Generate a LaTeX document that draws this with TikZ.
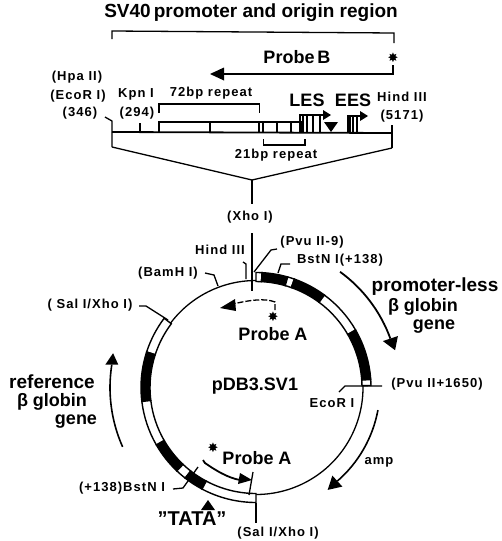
\documentclass[tikz,border=0pt]{standalone}
\usepackage{fontspec}
\setmainfont{Liberation Sans}
\newfontfamily\starfont{DejaVu Sans}
\newfontfamily\labfont[LetterSpace=8]{Liberation Sans Bold}
\usetikzlibrary{calc}
\tikzset{
 lab/.style={inner sep=0pt,font=\fontsize{13}{14}\labfont},
 big/.style={inner sep=0pt,font=\fontsize{19}{21}\selectfont\bfseries},
 mid/.style={inner sep=0pt,font=\fontsize{18}{21}\selectfont\bfseries},
 wide/.style={inner sep=0pt,font=\fontsize{19}{21}\selectfont\bfseries},
 thinl/.style={line width=1.3pt},
 med/.style={line width=1.8pt},
 starn/.style={inner sep=0pt,font=\fontsize{13}{13}\selectfont\starfont},
}
\newcommand{\band}[3]{\filldraw[fill=#3,draw=black,line width=1.4pt] (#1:115) arc[start angle=#1,end angle=#2,radius=115] -- (#2:106) arc[start angle=#2,end angle=#1,radius=106] -- cycle;}
\begin{document}
\begin{tikzpicture}[x=1pt,y=-1pt,line cap=butt]
\useasboundingbox[fill=white] (0,0) rectangle (501,541);
% top texts
\node[big] (title) at (251,13) {SV40\,promoter and origin region};
\node[mid] (pb) at (297,57) {Probe\,B};
\node[starn] (sb) at (393,58) {✸};
\node[lab] (hpa) at (77,77) {(Hpa II)};
\node[lab] (eco) at (78,96) {(EcoR I)};
\node[lab] (n346) at (80,113) {(346)};
\node[lab] (kpn) at (136,94) {Kpn I};
\node[lab] (n294) at (137,113) {(294)};
\node[lab] (r72) at (211,93) {72bp repeat};
\node[mid] (les) at (307,100) {LES};
\node[mid] (ees) at (353,100) {EES};
\node[lab] (hind) at (402,97) {Hind III};
\node[lab] (n5171) at (402,116) {(5171)};
\node[lab] (r21) at (276,155) {21bp repeat};
% bracket
\draw[thinl] (112,39) -- (112,31) -- (394,33) -- (394,43);
\coordinate (pbs) at (393,65);
\coordinate (pbc) at (393,74);
\coordinate (pbt) at (210,74);
\draw[med] (pbs) -- (pbc) -- (224,74);
\fill (pbt) -- (224,67.5) -- (224,80.5) -- cycle;
% map
\coordinate (ml) at (112,132);
\coordinate (mr) at (392,133);
\draw[med] (ml) -- (mr);
\draw[thinl] (105,117) -- (112,121) -- (112,147) coordinate (zl);
\draw[thinl] (392,125) -- (392,148) coordinate (zr);
\coordinate (apex) at (252,180);
\draw[thinl] (zl) -- (apex) -- (zr);
\node[lab] (xho) at (250,217) {(Xho I)};
\draw[thinl] (apex) -- (252,204);
\draw[thinl] (140,123) -- (140,132);
% repeat boxes
\draw[thinl] (159,132) |- (302,122);
\foreach \x in {210,259,263,277,291,302}{\draw[thinl] (\x,122) -- (\x,132);}
\draw[thinl] (159,113) -- (159,104) -- (259.5,104) -- (259.5,113);
\draw[thinl] (263.5,139) -- (263.5,145) -- (305,145) -- (305,139);
% LES
\draw[thinl] (300,132) -- (300,115) -- (325,115);
\fill (331,115) -- (323,110) -- (323,120) -- cycle;
\foreach \x in {303,307,313,320}{\draw[thinl] (\x,115) -- (\x,132);}
\fill (324,122) -- (338,122) -- (331,132) -- cycle;
% EES
\fill (347,116) rectangle (350.5,133);
\draw[thinl] (353,116) -- (353,132);
\fill (355.5,116) rectangle (358,133);
\draw[thinl] (347,116) -- (362,116);
\fill (368,116) -- (360,111) -- (360,121) -- cycle;
% circle
\begin{scope}[shift={(256,387.5)},y=1pt]
\draw[thinl] (1:107) arc[start angle=1,end angle=-90,radius=107];
\draw[thinl] (143:107) arc[start angle=143,end angle=90,radius=107];
\band{90}{87}{white}
\band{87}{74}{black}
\band{74}{70.5}{white}
\band{70.5}{53.5}{black}
\band{53.5}{30}{white}
\band{30}{4}{black}
\band{4}{1}{white}
\band{143}{162}{white}
\band{162}{187}{black}
\band{187}{210}{white}
\band{210}{226.5}{black}
\band{226.5}{232}{white}
\band{232}{242}{black}
\band{242}{270}{white}
% outer arrows
\draw[line width=1.8pt] (54:143) arc[start angle=54,end angle=20,radius=143];
\fill (15:144) -- ($(20:143)+(-7.5,-2.5)$) -- ($(20:143)+(7.5,2.5)$) -- cycle;
\draw[line width=1.6pt] (204:146) arc[start angle=204,end angle=171,radius=146];
\fill (166.5:147) -- ($(171:146)+(-6.5,0)$) -- ($(171:146)+(6.5,0)$) -- cycle;
\draw[line width=1.6pt] (-10.5:124) arc[start angle=-10.5,end angle=-49,radius=124];
\fill (-55:125) -- ($(-49:124)+(-5,5.5)$) -- ($(-49:124)+(5,-5.5)$) -- cycle;
\end{scope}
% vertical top
\draw[thinl] (252,233) -- (252,291);
\node[lab] (hind2) at (220,250) {Hind III};
\draw[thinl] (243,262) -- (246,264) -- (246,279);
\node[lab] (bam) at (168,273) {(BamH I)};
\draw[thinl] (205,273) -- (214,275) -- (218,286);
\node[lab] (sal1) at (90,305) {( Sal I/Xho I)};
\draw[thinl] (139,306) -- (146,306) -- (168,320);
\node[lab] (pvu9) at (312,242) {(Pvu II-9)};
\draw[thinl] (277,249) -- (271,250) -- (254,272);
\node[lab] (bst1) at (340,260) {BstN I(+138)};
\draw[thinl] (290,264) -- (281,264) -- (278,273);
\node[wide] (pl1) at (435,287) {promoter-less};
\node[mid] (pl2) at (423,307) {β globin};
\node[mid] (pl3) at (434,327) {gene};
\node[lab] (pvu16) at (437,384) {(Pvu II+1650)};
\draw[thinl] (382,386) -- (345,386) -- (339,392);
\node[lab] (eco2) at (332,403) {EcoR I};
\node[lab] (amp) at (379,462) {amp};
\node[mid] (plas) at (255,386) {pDB3.SV1};
\node[wide] (ref1) at (52,382) {reference};
\node[mid] (ref2) at (52,402) {β globin};
\node[mid] (ref3) at (76,422) {gene};
% probe A top
\node[mid] (pa1) at (273,334) {Probe A};
\node[starn] (s1) at (273,317) {✸};
\draw[thinl,dash pattern=on 6pt off 2pt] (275,310) -- (275,302) .. controls (265,298) and (250,300) .. (233,304);
\fill (220,308) -- (235,299) -- (236,311) -- cycle;
% probe A bottom
\node[mid] (pa2) at (257,458) {Probe A};
\node[starn] (s2) at (213,448) {✸};
\draw[med] (203,460) -- (205,463) .. controls (215,470) and (228,478) .. (240,480);
\fill (252,480) -- (240,473) -- (238,484) -- cycle;
\draw[thinl] (253,472) -- (249,495);
\node[lab] (bst2) at (122,488) {(+138)BstN I};
\draw[thinl] (173,489) -- (183,488) -- (198,467);
\fill (208,500) -- (201,510) -- (215,510) -- cycle;
\node[wide,font=\fontsize{20}{21}\selectfont\bfseries] (tata) at (192,519) {"TATA"};
\draw[thinl] (256,503) -- (256,523);
\node[lab] (sal2) at (278,533) {(Sal I/Xho I)};
\end{tikzpicture}
\end{document}
